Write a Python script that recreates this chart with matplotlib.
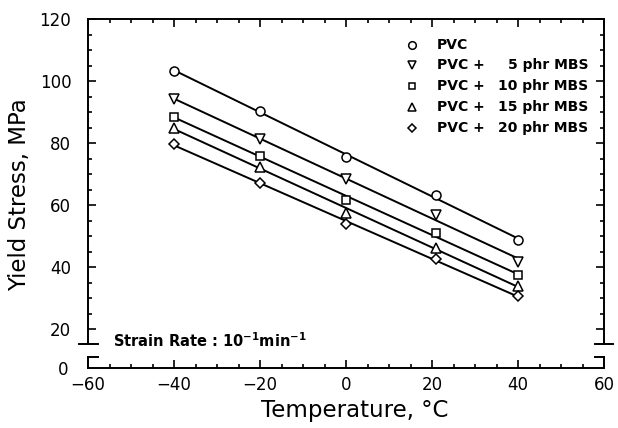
import numpy as np
import matplotlib
matplotlib.use("Agg")
import matplotlib.pyplot as plt

# --- data ---
temps = [-40, -20, 0, 21, 40]
pvc = [103.3, 90.4, 75.4, 63.2, 48.7]
mbs5 = [94.1, 81.2, 68.4, 56.8, 41.5]
mbs10 = [88.5, 75.9, 61.5, 50.9, 37.4]
mbs15 = [84.9, 72.2, 57.5, 46.0, 34.0]
mbs20 = [79.7, 67.0, 53.8, 42.5, 30.6]

series = [pvc, mbs5, mbs10, mbs15, mbs20]
markers = ["o", "v", "s", "^", "D"]
msizes = [6.5, 7, 6, 7, 5.5]
phr = [None, "5", "10", "15", "20"]

plt.rcParams["font.family"] = ["DejaVu Sans"]
plt.rcParams["axes.linewidth"] = 1.4

W, H = 618, 428
fig = plt.figure(figsize=(W / 100, H / 100), dpi=100)

def fx(px):
    return px / W

def fy(py):
    return 1 - py / H

x_left, x_right = 88, 604
y_top, y_brk, y_low_top, y_bot = 19, 344, 357, 368
ppu = 3.1  # pixels per MPa

ax = fig.add_axes([fx(x_left), fy(y_brk), fx(x_right - x_left), (y_brk - y_top) / H])
axl = fig.add_axes([fx(x_left), fy(y_bot), fx(x_right - x_left), (y_bot - y_low_top) / H])

ax.set_xlim(-60, 60)
ax.set_ylim(120 - (y_brk - y_top) / ppu, 120)
axl.set_xlim(-60, 60)
axl.set_ylim(0, (y_bot - y_low_top) / ppu)

# main axes: no bottom spine
ax.spines["bottom"].set_visible(False)
ax.set_xticks(np.arange(-60, 61, 20))
ax.set_xticks(np.arange(-60, 61, 5), minor=True)
ax.set_yticks(np.arange(20, 121, 20))
ax.set_yticks(np.arange(20, 121, 5), minor=True)
ax.tick_params(which="both", direction="in", top=True, bottom=False,
               left=True, right=True, labelbottom=False, width=1.2)
ax.tick_params(which="major", length=6)
ax.tick_params(which="minor", length=3)
ax.tick_params(axis="y", labelsize=12, pad=12)

# lower axes: only the zero stub
axl.spines["top"].set_visible(False)
axl.set_xticks(np.arange(-60, 61, 20))
axl.set_xticks(np.arange(-60, 61, 5), minor=True)
axl.set_yticks([0])
axl.tick_params(which="both", direction="in", top=False, bottom=True,
                left=False, right=False, width=1.2)
axl.tick_params(which="major", length=6)
axl.tick_params(which="minor", length=3)
axl.tick_params(axis="x", labelsize=12, pad=6)
axl.tick_params(axis="y", labelsize=12, pad=14)

# break marks
lw = 1.4
for xs in [(-0.0174, 0.0194), (0.9826, 1.0174)]:
    ax.plot(xs, [0, 0], color="black", lw=lw, transform=ax.transAxes, clip_on=False)
for xs in [(0, 0.0194), (0.9826, 1.0)]:
    axl.plot(xs, [1, 1], color="black", lw=lw, transform=axl.transAxes, clip_on=False)

# data with linear fits
for ys, m, ms in zip(series, markers, msizes):
    k, b = np.polyfit(temps, ys, 1)
    xx = np.array([temps[0], temps[-1]])
    ax.plot(xx, k * xx + b, color="black", lw=1.4)
    ax.plot(temps, ys, linestyle="none", marker=m, ms=ms, mfc="white",
            mec="black", mew=1.1)

# legend drawn by hand
leg_mx, leg_tx, leg_end = 412, 437, 588
leg_rows = [45, 65, 86, 107, 128]
for m, ms, n, ry in zip(markers, msizes, phr, leg_rows):
    ax.plot([fx(leg_mx)], [fy(ry)], marker=m, ms=ms - 1, mfc="white",
            mec="black", mew=1.1, transform=fig.transFigure, clip_on=False)
    if n is None:
        fig.text(fx(leg_tx), fy(ry), "PVC", fontsize=10, fontweight="bold",
                 va="center", ha="left")
    else:
        fig.text(fx(leg_tx), fy(ry), "PVC +", fontsize=10, fontweight="bold",
                 va="center", ha="left")
        fig.text(fx(leg_end), fy(ry), n + " phr MBS", fontsize=10,
                 fontweight="bold", va="center", ha="right")

fig.text(fx(113), fy(341), r"Strain Rate : 10$^{\mathbf{-1}}$min$^{\mathbf{-1}}$",
         fontsize=10.5, fontweight="bold", va="center", ha="left")

fig.text(fx(355), fy(410), "Temperature, °C", fontsize=16.5, ha="center", va="center")
fig.text(fx(20), fy(195), "Yield Stress, MPa", fontsize=16.5, ha="center",
         va="center", rotation=90)

fig.savefig("out.png", dpi=100)
